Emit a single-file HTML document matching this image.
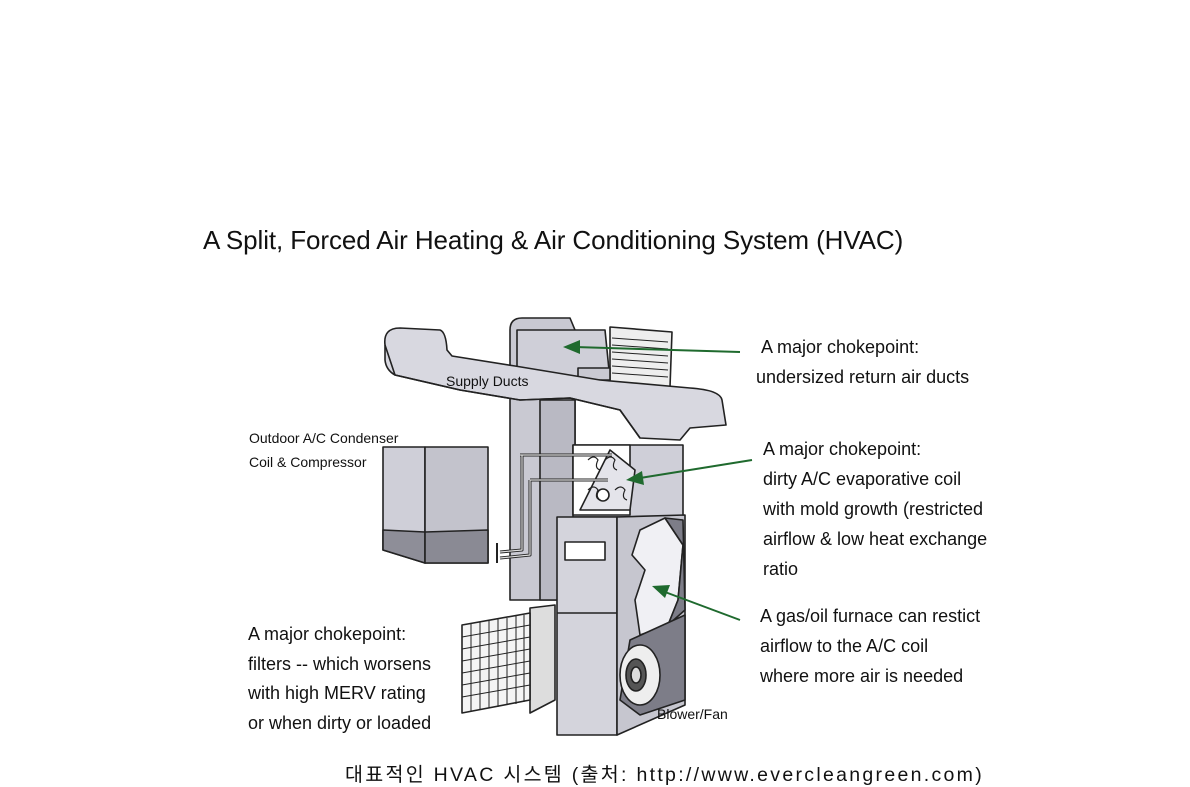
<!DOCTYPE html>
<html><head><meta charset="utf-8"><style>
body{margin:0;background:#fff;width:1190px;height:782px;overflow:hidden;position:relative;font-family:"Liberation Sans",sans-serif;}
.t{position:absolute;color:#111;white-space:nowrap;}
</style></head><body>
<div class="t" style="left:203px;top:225px;font-size:26px;letter-spacing:-0.1px">A Split, Forced Air Heating &amp; Air Conditioning System (HVAC)</div>
<svg width="1190" height="782" style="position:absolute;left:0;top:0" stroke="#222" stroke-width="1.6" stroke-linejoin="round">
<path d="M510,330 Q510,318 522,318 L570,318 L575,330 L575,600 L510,600 Z" fill="#c9c9d2"/>
<rect x="540" y="400" width="35" height="200" fill="#b9b9c3"/>
<path d="M517,330 L605,330 L610,380 L517,380 Z" fill="#cfcfd8"/>
<polygon points="610,327 672,332 670,387 610,382" fill="#eee"/>
<g stroke-width="1">
<line x1="612" y1="338" x2="668" y2="342"/><line x1="612" y1="345" x2="668" y2="349"/><line x1="612" y1="352" x2="668" y2="356"/><line x1="612" y1="359" x2="668" y2="363"/><line x1="612" y1="366" x2="668" y2="370"/><line x1="612" y1="373" x2="668" y2="377"/>
</g>
<rect x="578" y="368" width="32" height="12" fill="#c9c9d2"/>
<path d="M385,345 Q383,328 400,328 L440,330 Q446,332 447,350 L452,356 L515,366 L600,380 L690,388 Q720,390 722,400 L726,425 L690,428 L680,440 L640,438 L620,410 L570,398 L520,400 L460,390 L395,375 Q386,370 385,360 Z" fill="#d8d8e0"/>
<path d="M385,345 L395,375 L460,390 L520,400 L570,398 L620,410 L640,438" fill="none"/>
<polygon points="573,445 683,445 683,517 573,517" fill="#cfcfd8"/>
<polygon points="573,445 630,445 630,515 573,515" fill="#fff"/>
<polygon points="610,450 635,470 630,510 580,510" fill="#e4e4ea"/>
<g fill="none" stroke-width="1.2">
<path d="M588,460 q6,-6 10,0 q-4,8 2,10"/><path d="M605,460 q6,-6 10,0 q-4,8 2,10"/><path d="M588,490 q6,-6 10,0 q-4,8 2,10"/><path d="M615,490 q6,-6 10,0 q-4,8 2,10"/>
</g>
<circle cx="603" cy="495" r="6" fill="#fff"/>
<path d="M520,455 L612,455 M522,455 L522,550 L500,552 M530,480 L608,480 M530,480 L530,555 L500,558" fill="none" stroke-width="3"/>
<path d="M520,455 L612,455 M522,455 L522,550 L500,552 M530,480 L608,480 M530,480 L530,555 L500,558" fill="none" stroke="#ddd" stroke-width="1.2"/>
<line x1="497" y1="543" x2="497" y2="563" stroke-width="2"/>
<polygon points="383,447 425,447 425,563 383,550" fill="#cfcfd8"/>
<polygon points="425,447 488,447 488,563 425,563" fill="#c3c3cc"/>
<polygon points="383,530 425,532 425,563 383,550" fill="#8e8e98"/>
<polygon points="425,532 488,530 488,563 425,563" fill="#8a8a94"/>
<polygon points="530,608 555,605 555,700 530,713" fill="#ddd"/>
<polygon points="462,625 530,613 530,700 462,713" fill="#f4f4f4"/>
<g stroke-width="1">
<line x1="471" y1="624" x2="471" y2="711"/><line x1="480" y1="622" x2="480" y2="710"/><line x1="489" y1="621" x2="489" y2="708"/><line x1="498" y1="619" x2="498" y2="707"/><line x1="507" y1="618" x2="507" y2="705"/><line x1="516" y1="616" x2="516" y2="704"/><line x1="524" y1="615" x2="524" y2="702"/>
<line x1="462" y1="637" x2="530" y2="625"/><line x1="462" y1="649" x2="530" y2="637"/><line x1="462" y1="661" x2="530" y2="649"/><line x1="462" y1="673" x2="530" y2="661"/><line x1="462" y1="685" x2="530" y2="673"/><line x1="462" y1="697" x2="530" y2="685"/>
</g>
<polygon points="557,517 617,517 617,735 557,735" fill="#d4d4dc"/>
<line x1="557" y1="613" x2="617" y2="613"/>
<polygon points="617,517 685,515 685,705 617,735" fill="#c6c6cf"/>
<path d="M640,530 L665,518 L683,545 L678,600 L668,625 L640,635 L635,600 L645,570 L632,555 Z" fill="#f0f0f4"/>
<path d="M665,518 L683,520 L685,610 L668,625 L678,600 L683,545 Z" fill="#7d7d88"/>
<path d="M630,640 L685,615 L685,700 L640,715 L620,700 Z" fill="#7d7d88"/>
<ellipse cx="640" cy="675" rx="20" ry="30" fill="#eee"/>
<ellipse cx="636" cy="675" rx="10" ry="16" fill="#555"/>
<ellipse cx="636" cy="675" rx="5" ry="8" fill="#ddd"/>
<rect x="565" y="542" width="40" height="18" fill="#fff"/>
<g stroke="#1f6a2e" stroke-width="2" fill="#1f6a2e">
<line x1="740" y1="352" x2="575" y2="347"/><polygon points="563,347 580,340 580,354" stroke="none"/>
<line x1="752" y1="460" x2="640" y2="478"/><polygon points="626,480 642,471 644,485" stroke="none"/>
<line x1="740" y1="620" x2="665" y2="592"/><polygon points="652,586 670,585 665,598" stroke="none"/>
</g>
</svg>
<div class="t" style="left:446px;top:373px;font-size:14px">Supply Ducts</div>
<div class="t" style="left:249px;top:426px;font-size:14px;line-height:24px">Outdoor A/C Condenser<br>Coil &amp; Compressor</div>
<div class="t" style="left:657px;top:706px;font-size:14px">Blower/Fan</div>
<div class="t" style="left:756px;top:332px;font-size:18px;line-height:30px">&nbsp;A major chokepoint:<br>undersized return air ducts</div>
<div class="t" style="left:763px;top:434px;font-size:18px;line-height:30px">A major chokepoint:<br>dirty A/C evaporative coil<br>with mold growth (restricted<br>airflow &amp; low heat exchange<br>ratio</div>
<div class="t" style="left:760px;top:601px;font-size:18px;line-height:30px">A gas/oil furnace can restict<br>airflow to the A/C coil<br>where more air is needed</div>
<div class="t" style="left:248px;top:620px;font-size:18px;line-height:29.5px">A major chokepoint:<br>filters -- which worsens<br>with high MERV rating<br>or when dirty or loaded</div>
<div class="t" style="left:345px;top:758px;font-size:19.5px;letter-spacing:2.3px;font-family:'Liberation Sans','Noto Sans CJK KR',sans-serif">대표적인 HVAC 시스템 (출처: http://www.evercleangreen.com)</div>
</body></html>
